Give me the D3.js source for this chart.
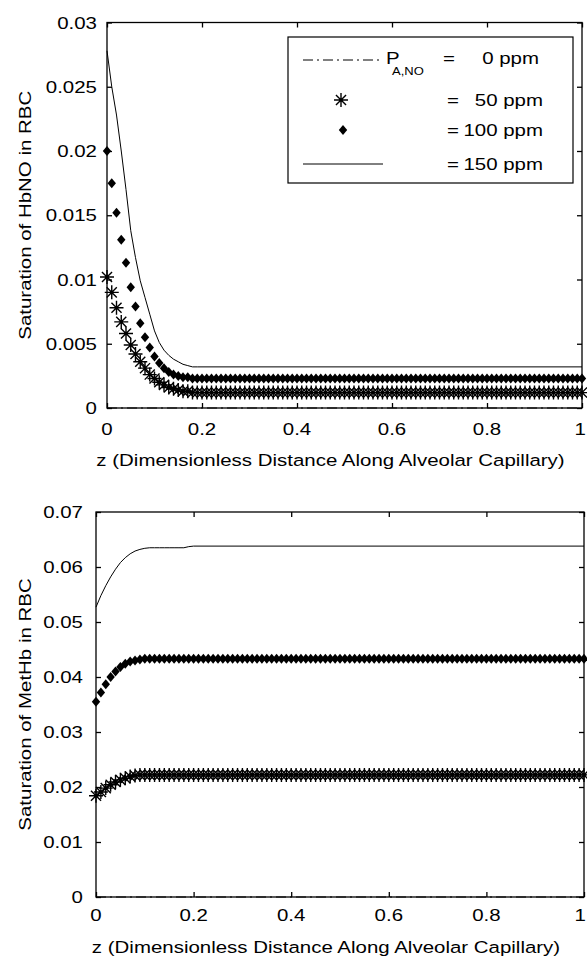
<!DOCTYPE html>
<html><head><meta charset="utf-8">
<script src="https://cdn.jsdelivr.net/npm/d3@7"></script>
<style>
body{margin:0;background:#fff}
text{font-family:Arial,"Liberation Sans",sans-serif;fill:#000}
</style>
</head><body>
<svg id="c" width="587" height="956"></svg>
<script>
// ---------------- data ----------------
const zGrid = [0.00,0.01,0.02,0.03,0.04,0.05,0.06,0.07,0.08,0.09,
  0.10,0.11,0.12,0.13,0.14,0.15,0.16,0.17,0.18,0.19,
  0.20,0.21,0.22,0.23,0.24,0.25,0.26,0.27,0.28,0.29,
  0.30,0.31,0.32,0.33,0.34,0.35,0.36,0.37,0.38,0.39,
  0.40,0.41,0.42,0.43,0.44,0.45,0.46,0.47,0.48,0.49,
  0.50,0.51,0.52,0.53,0.54,0.55,0.56,0.57,0.58,0.59,
  0.60,0.61,0.62,0.63,0.64,0.65,0.66,0.67,0.68,0.69,
  0.70,0.71,0.72,0.73,0.74,0.75,0.76,0.77,0.78,0.79,
  0.80,0.81,0.82,0.83,0.84,0.85,0.86,0.87,0.88,0.89,
  0.90,0.91,0.92,0.93,0.94,0.95,0.96,0.97,0.98,0.99,1.00];

// HbNO saturation, 0 ppm (dash-dot line)
const hbnoZ0 = [0, 1];
const hbno0 = [0, 0];
// HbNO saturation, 50 ppm (asterisks, on zGrid)
const hbno50 = [0.0102,0.0090,0.0078,0.0067,0.0058,0.0049,0.0042,0.0036,0.0031,0.0026,
  0.0023,0.0020,0.0018,0.0016,0.0015,0.0014,0.0013,0.0013,0.0012,0.0012,
  0.0012,0.0012,0.0012,0.0012,0.0012,0.0012,0.0012,0.0012,0.0012,0.0012,
  0.0012,0.0012,0.0012,0.0012,0.0012,0.0012,0.0012,0.0012,0.0012,0.0012,
  0.0012,0.0012,0.0012,0.0012,0.0012,0.0012,0.0012,0.0012,0.0012,0.0012,
  0.0012,0.0012,0.0012,0.0012,0.0012,0.0012,0.0012,0.0012,0.0012,0.0012,
  0.0012,0.0012,0.0012,0.0012,0.0012,0.0012,0.0012,0.0012,0.0012,0.0012,
  0.0012,0.0012,0.0012,0.0012,0.0012,0.0012,0.0012,0.0012,0.0012,0.0012,
  0.0012,0.0012,0.0012,0.0012,0.0012,0.0012,0.0012,0.0012,0.0012,0.0012,
  0.0012,0.0012,0.0012,0.0012,0.0012,0.0012,0.0012,0.0012,0.0012,0.0012,0.0012];
// HbNO saturation, 100 ppm (diamonds, on zGrid)
const hbno100 = [0.0200,0.0175,0.0152,0.0131,0.0113,0.0094,0.0079,0.0066,0.0055,0.0047,
  0.0040,0.0035,0.0031,0.0028,0.0026,0.0025,0.0024,0.0024,0.0023,0.0023,
  0.0023,0.0023,0.0023,0.0023,0.0023,0.0023,0.0023,0.0023,0.0023,0.0023,
  0.0023,0.0023,0.0023,0.0023,0.0023,0.0023,0.0023,0.0023,0.0023,0.0023,
  0.0023,0.0023,0.0023,0.0023,0.0023,0.0023,0.0023,0.0023,0.0023,0.0023,
  0.0023,0.0023,0.0023,0.0023,0.0023,0.0023,0.0023,0.0023,0.0023,0.0023,
  0.0023,0.0023,0.0023,0.0023,0.0023,0.0023,0.0023,0.0023,0.0023,0.0023,
  0.0023,0.0023,0.0023,0.0023,0.0023,0.0023,0.0023,0.0023,0.0023,0.0023,
  0.0023,0.0023,0.0023,0.0023,0.0023,0.0023,0.0023,0.0023,0.0023,0.0023,
  0.0023,0.0023,0.0023,0.0023,0.0023,0.0023,0.0023,0.0023,0.0023,0.0023,0.0023];
// HbNO saturation, 150 ppm (solid line)
const hbnoZ150 = [0.00,0.01,0.02,0.03,0.04,0.05,0.06,0.07,0.08,0.09,0.10,
  0.11,0.12,0.13,0.14,0.15,0.16,0.17,0.18,0.19,0.20,1.00];
const hbno150 = [0.0278,0.0250,0.0228,0.0200,0.0170,0.0138,0.0117,0.0099,0.0086,0.0073,0.0060,
  0.0051,0.0045,0.0041,0.0038,0.0036,0.0034,0.0033,0.0032,0.0032,0.0032,0.0032];

// MetHb saturation, 0 ppm (dash-dot line)
const methbZ0 = [0, 1];
const methb0 = [0, 0];
// MetHb saturation, 50 ppm (asterisks, on zGrid)
const methb50 = [0.0184,0.0191,0.0198,0.0204,0.0209,0.0213,0.0216,0.0219,0.0221,0.0222,
  0.0222,0.0222,0.0222,0.0222,0.0222,0.0222,0.0222,0.0222,0.0222,0.0222,
  0.0222,0.0222,0.0222,0.0222,0.0222,0.0222,0.0222,0.0222,0.0222,0.0222,
  0.0222,0.0222,0.0222,0.0222,0.0222,0.0222,0.0222,0.0222,0.0222,0.0222,
  0.0222,0.0222,0.0222,0.0222,0.0222,0.0222,0.0222,0.0222,0.0222,0.0222,
  0.0222,0.0222,0.0222,0.0222,0.0222,0.0222,0.0222,0.0222,0.0222,0.0222,
  0.0222,0.0222,0.0222,0.0222,0.0222,0.0222,0.0222,0.0222,0.0222,0.0222,
  0.0222,0.0222,0.0222,0.0222,0.0222,0.0222,0.0222,0.0222,0.0222,0.0222,
  0.0222,0.0222,0.0222,0.0222,0.0222,0.0222,0.0222,0.0222,0.0222,0.0222,
  0.0222,0.0222,0.0222,0.0222,0.0222,0.0222,0.0222,0.0222,0.0222,0.0222,0.0222];
// MetHb saturation, 100 ppm (diamonds, on zGrid)
const methb100 = [0.0355,0.0372,0.0387,0.0400,0.0410,0.0418,0.0424,0.0428,0.0430,0.0432,
  0.0433,0.0433,0.0433,0.0433,0.0433,0.0433,0.0433,0.0433,0.0433,0.0433,
  0.0433,0.0433,0.0433,0.0433,0.0433,0.0433,0.0433,0.0433,0.0433,0.0433,
  0.0433,0.0433,0.0433,0.0433,0.0433,0.0433,0.0433,0.0433,0.0433,0.0433,
  0.0433,0.0433,0.0433,0.0433,0.0433,0.0433,0.0433,0.0433,0.0433,0.0433,
  0.0433,0.0433,0.0433,0.0433,0.0433,0.0433,0.0433,0.0433,0.0433,0.0433,
  0.0433,0.0433,0.0433,0.0433,0.0433,0.0433,0.0433,0.0433,0.0433,0.0433,
  0.0433,0.0433,0.0433,0.0433,0.0433,0.0433,0.0433,0.0433,0.0433,0.0433,
  0.0433,0.0433,0.0433,0.0433,0.0433,0.0433,0.0433,0.0433,0.0433,0.0433,
  0.0433,0.0433,0.0433,0.0433,0.0433,0.0433,0.0433,0.0433,0.0433,0.0433,0.0433];
// MetHb saturation, 150 ppm (solid line)
const methbZ150 = [0.00,0.01,0.02,0.03,0.04,0.05,0.06,0.07,0.08,0.09,0.10,
  0.11,0.12,0.13,0.14,0.15,0.16,0.17,0.18,0.19,0.20,1.00];
const methb150 = [0.0527,0.0548,0.0566,0.0582,0.0596,0.0608,0.0617,0.0624,0.0629,0.0632,0.0634,
  0.0635,0.0635,0.0635,0.0635,0.0635,0.0635,0.0635,0.0635,0.0637,0.0638,0.0638];

// ticks
const zTicks = [0, 0.2, 0.4, 0.6, 0.8, 1];
const zTickLabels = ["0", "0.2", "0.4", "0.6", "0.8", "1"];
const hbnoTicks = [0, 0.005, 0.01, 0.015, 0.02, 0.025, 0.03];
const hbnoTickLabels = ["0", "0.005", "0.01", "0.015", "0.02", "0.025", "0.03"];
const methbTicks = [0, 0.01, 0.02, 0.03, 0.04, 0.05, 0.06, 0.07];
const methbTickLabels = ["0", "0.01", "0.02", "0.03", "0.04", "0.05", "0.06", "0.07"];

// legend
const legendLabels = ["0 ppm", "50 ppm", "100 ppm", "150 ppm"];
const xTitle = "z (Dimensionless Distance Along Alveolar Capillary)";

// ---------------- drawing ----------------
const SX = 1.24;      // horizontal widening of the glyphs
const FS = 16.5;
const W = 587;
const svg = d3.select("#c");

function txt(g, x, y, s, anchor, rot, fs) {
  return g.append("text")
    .attr("transform", `translate(${x},${y}) rotate(${rot || 0}) scale(${SX},1)`)
    .attr("text-anchor", anchor || "start")
    .style("font-size", (fs || FS) + "px")
    .text(s);
}

const starPath = (r => {
  const d = r * 0.72;
  return `M${-r},0H${r}M0,${-r}V${r}M${-d},${-d}L${d},${d}M${-d},${d}L${d},${-d}`;
})(7);
const diamondPath = "M0,-5L4.2,0L0,5L-4.2,0Z";

function panel(cfg) {
  const { x0, x1, y0, y1, yMax, yTicks, yLabels, yTitle, yTitleX, yLabPad,
          series, xLabBase, xTitleBase } = cfg;
  const x = d3.scaleLinear().domain([0, 1]).range([x0, x1]);
  const y = d3.scaleLinear().domain([0, yMax]).range([y0, y1]);
  const g = svg.append("g");

  const line = d3.line().x(d => x(d[0])).y(d => y(d[1]));
  g.append("path").datum(d3.zip(series.z0, series.v0)).attr("d", line)
    .attr("fill", "none").attr("stroke", "#000").attr("stroke-width", 1)
    .attr("stroke-dasharray", "10,4,2,4");
  g.append("g").selectAll("path").data(d3.zip(zGrid, series.v50)).join("path")
    .attr("transform", d => `translate(${x(d[0])},${y(d[1])})`)
    .attr("d", starPath).attr("fill", "none").attr("stroke", "#000").attr("stroke-width", 1.4);
  g.append("g").selectAll("path").data(d3.zip(zGrid, series.v100)).join("path")
    .attr("transform", d => `translate(${x(d[0])},${y(d[1])})`)
    .attr("d", diamondPath).attr("fill", "#000");
  g.append("path").datum(d3.zip(series.z150, series.v150)).attr("d", line)
    .attr("fill", "none").attr("stroke", "#000").attr("stroke-width", 1);

  g.append("rect").attr("x", x0).attr("y", y1).attr("width", x1 - x0).attr("height", y0 - y1)
    .attr("fill", "none").attr("stroke", "#000").attr("stroke-width", 1.3);

  const axB = d3.axisBottom(x).tickValues(zTicks).tickSizeInner(-5).tickSizeOuter(0).tickFormat("");
  const axT = d3.axisTop(x).tickValues(zTicks).tickSizeInner(-5).tickSizeOuter(0).tickFormat("");
  const axL = d3.axisLeft(y).tickValues(yTicks).tickSizeInner(-5).tickSizeOuter(0).tickFormat("");
  const axR = d3.axisRight(y).tickValues(yTicks).tickSizeInner(-5).tickSizeOuter(0).tickFormat("");
  [[axB, `translate(0,${y0})`], [axT, `translate(0,${y1})`],
   [axL, `translate(${x0},0)`], [axR, `translate(${x1},0)`]].forEach(([ax, tr]) => {
    const a = g.append("g").attr("transform", tr).call(ax);
    a.select(".domain").remove();
    a.selectAll("line").attr("stroke", "#000").attr("stroke-width", 1.3);
  });

  zTicks.forEach((t, i) => {
    // keep the right-most label inside the page
    const px = x(t) + 7 > W - 1 ? W - 1 : null;
    if (px === null) txt(g, x(t), xLabBase, zTickLabels[i], "middle");
    else txt(g, px, xLabBase, zTickLabels[i], "end");
  });
  yTicks.forEach((t, i) => txt(g, x0 - yLabPad, y(t) + 6, yLabels[i], "end"));

  txt(g, (x0 + x1) / 2 - 14, xTitleBase, xTitle, "middle");
  txt(g, yTitleX, (y0 + y1) / 2, yTitle, "middle", -90);
  return { g, x, y };
}

const panelTop = panel({
  x0: 107, x1: 582, y0: 408, y1: 22.5, yMax: 0.03,
  yTicks: hbnoTicks, yLabels: hbnoTickLabels,
  yTitle: "Saturation of HbNO in RBC", yTitleX: 31, yLabPad: 10,
  series: { z0: hbnoZ0, v0: hbno0, v50: hbno50, v100: hbno100, z150: hbnoZ150, v150: hbno150 },
  xLabBase: 435, xTitleBase: 466
});

const panelBottom = panel({
  x0: 96, x1: 584, y0: 897, y1: 512, yMax: 0.07,
  yTicks: methbTicks, yLabels: methbTickLabels,
  yTitle: "Saturation of MetHb in RBC", yTitleX: 31, yLabPad: 13,
  series: { z0: methbZ0, v0: methb0, v50: methb50, v100: methb100, z150: methbZ150, v150: methb150 },
  xLabBase: 921, xTitleBase: 953
});

// legend (top panel)
const lg = svg.append("g");
lg.append("rect").attr("x", 288).attr("y", 37).attr("width", 285).attr("height", 146)
  .attr("fill", "#fff").attr("stroke", "#000").attr("stroke-width", 1.2);
lg.append("line").attr("x1", 303).attr("x2", 381).attr("y1", 60).attr("y2", 60)
  .attr("stroke", "#000").attr("stroke-dasharray", "10,4,2,4");
txt(lg, 386, 64, "P", "start");
txt(lg, 392, 75, "A,NO", "start", 0, 10.5);
txt(lg, 443, 64, "=", "start");
txt(lg, 539, 64, legendLabels[0], "end");
lg.append("path").attr("transform", "translate(341,100)").attr("d", starPath)
  .attr("fill", "none").attr("stroke", "#000").attr("stroke-width", 1.4);
txt(lg, 447, 106, "=", "start");
txt(lg, 543, 106, legendLabels[1], "end");
lg.append("path").attr("transform", "translate(343,130)").attr("d", diamondPath).attr("fill", "#000");
txt(lg, 447, 136, "=", "start");
txt(lg, 543, 136, legendLabels[2], "end");
lg.append("line").attr("x1", 303).attr("x2", 383).attr("y1", 164).attr("y2", 164)
  .attr("stroke", "#000");
txt(lg, 447, 170, "=", "start");
txt(lg, 543, 170, legendLabels[3], "end");
</script>
</body></html>
